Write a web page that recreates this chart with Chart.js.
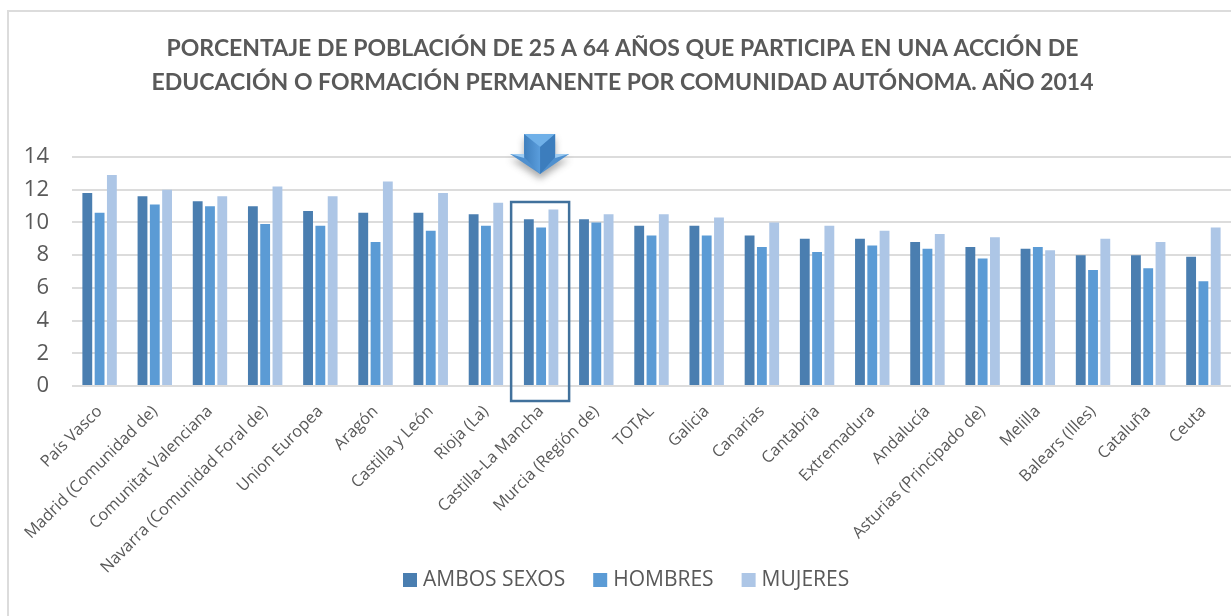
<!DOCTYPE html>
<html><head><meta charset="utf-8">
<style>html,body{margin:0;padding:0;background:#fff;overflow:hidden}canvas{display:block}</style>
<script src="https://cdn.jsdelivr.net/npm/chart.js@4"></script>
</head><body><canvas id="c" width="1231" height="616"></canvas>
<script>
const categories=["País Vasco","Madrid (Comunidad de)","Comunitat Valenciana","Navarra (Comunidad Foral de)","Union Europea","Aragón","Castilla y León","Rioja (La)","Castilla-La Mancha","Murcia (Región de)","TOTAL","Galicia","Canarias","Cantabria","Extremadura","Andalucía","Asturias (Principado de)","Melilla","Balears (Illes)","Cataluña","Ceuta"];
const ambos=[11.8,11.6,11.3,11.0,10.7,10.6,10.6,10.5,10.2,10.2,9.8,9.8,9.2,9.0,9.0,8.8,8.5,8.4,8.0,8.0,7.9];
const hombres=[10.6,11.1,11.0,9.9,9.8,8.8,9.5,9.8,9.7,10.0,9.2,9.2,8.5,8.2,8.6,8.4,7.8,8.5,7.1,7.2,6.4];
const mujeres=[12.9,12.0,11.6,12.2,11.6,12.5,11.8,11.2,10.8,10.5,10.5,10.3,10.0,9.8,9.5,9.3,9.1,8.3,9.0,8.8,9.7];
const titleLines=["PORCENTAJE DE POBLACIÓN DE 25 A 64 AÑOS QUE PARTICIPA EN UNA ACCIÓN DE","EDUCACIÓN O FORMACIÓN PERMANENTE POR COMUNIDAD AUTÓNOMA. AÑO 2014"];
const highlighted="Castilla-La Mancha";
const TEXT="#595959";
const decor={id:'decor',
 beforeDraw(ch){const g=ch.ctx;g.save();g.fillStyle='#fff';g.fillRect(0,0,ch.width,ch.height);
  g.strokeStyle='#dcdcdc';g.lineWidth=2;g.beginPath();g.moveTo(8,ch.height);g.lineTo(8,11);g.lineTo(ch.width,11);g.stroke();g.restore();},
 afterDraw(ch){const g=ch.ctx,cx=ch.scales.x.getPixelForValue(categories.indexOf(highlighted))-1,base=ch.scales.y.getPixelForValue(0);
  g.save();g.strokeStyle='#41719c';g.lineWidth=2.5;g.strokeRect(cx-29,base-184,58,199);
  const t=base-252,s=t+20,b=t+40;
  g.shadowColor='rgba(70,70,70,.45)';g.shadowBlur=7;g.shadowOffsetY=5;
  g.fillStyle='#4f90cf';g.beginPath();g.moveTo(cx-16,t);g.lineTo(cx+15,t);g.lineTo(cx+15,s);g.lineTo(cx+29,s);g.lineTo(cx,b);g.lineTo(cx-30,s);g.lineTo(cx-16,s);g.closePath();g.fill();
  g.shadowColor='transparent';
  let l=g.createLinearGradient(cx-16,0,cx,0);l.addColorStop(0,'#3f7fbd');l.addColorStop(1,'#5a9ddc');
  g.fillStyle=l;g.beginPath();g.moveTo(cx-16,t);g.lineTo(cx,t+13);g.lineTo(cx,b);g.lineTo(cx-16,s+3);g.closePath();g.fill();
  g.fillStyle='#6fb0e8';g.beginPath();g.moveTo(cx-16,t);g.lineTo(cx+15,t);g.lineTo(cx,t+13);g.closePath();g.fill();
  g.fillStyle='#3c7dbd';g.beginPath();g.moveTo(cx+15,t);g.lineTo(cx+15,s+3);g.lineTo(cx,b);g.lineTo(cx,t+13);g.closePath();g.fill();
  g.fillStyle='#9ccbf2';g.beginPath();g.moveTo(cx-30,s);g.lineTo(cx-16,s);g.lineTo(cx-16,s+4);g.closePath();g.fill();
  g.beginPath();g.moveTo(cx+29,s);g.lineTo(cx+15,s);g.lineTo(cx+15,s+4);g.closePath();g.fill();
  // legend, flowed from the datasets
  g.font='21px "Open Sans"';g.textBaseline='middle';g.textAlign='left';
  let x=403;
  ch.data.datasets.forEach(d=>{g.fillStyle=d.backgroundColor;g.fillRect(x,573,14,14);g.fillStyle=TEXT;g.fillText(d.label,x+20,580);x+=20+g.measureText(d.label).width+28;});
  g.restore();}
};
new Chart(document.getElementById('c'),{type:'bar',plugins:[decor],
 data:{labels:categories,datasets:[
  {label:'AMBOS SEXOS',data:ambos,backgroundColor:'#4a7eb0'},
  {label:'HOMBRES',data:hombres,backgroundColor:'#5b9bd5'},
  {label:'MUJERES',data:mujeres,backgroundColor:'#adc6e6'}]},
 options:{responsive:false,animation:false,
  datasets:{bar:{barPercentage:0.8,categoryPercentage:0.668,borderWidth:0}},
  layout:{padding:{left:14,right:0,top:0,bottom:0}},
  plugins:{tooltip:{enabled:false},legend:{display:false},
   title:{display:true,text:titleLines,color:TEXT,font:{family:'Lato',size:23,weight:'bold',lineHeight:1.48},padding:{top:32,bottom:57}}},
  scales:{
   x:{afterFit(a){a.height=230},grid:{display:false},border:{display:false},
      ticks:{autoSkip:false,maxRotation:45,minRotation:45,padding:8,color:TEXT,font:{family:'"Open Sans"',size:16.3}}},
   y:{min:0,max:14,afterFit(a){a.width=58},grid:{color:'#dcdcdc',lineWidth:2,drawTicks:false},border:{display:false},
      ticks:{stepSize:2,padding:23,color:TEXT,font:{family:'"Open Sans"',size:22}}}
  }}});
</script></body></html>
